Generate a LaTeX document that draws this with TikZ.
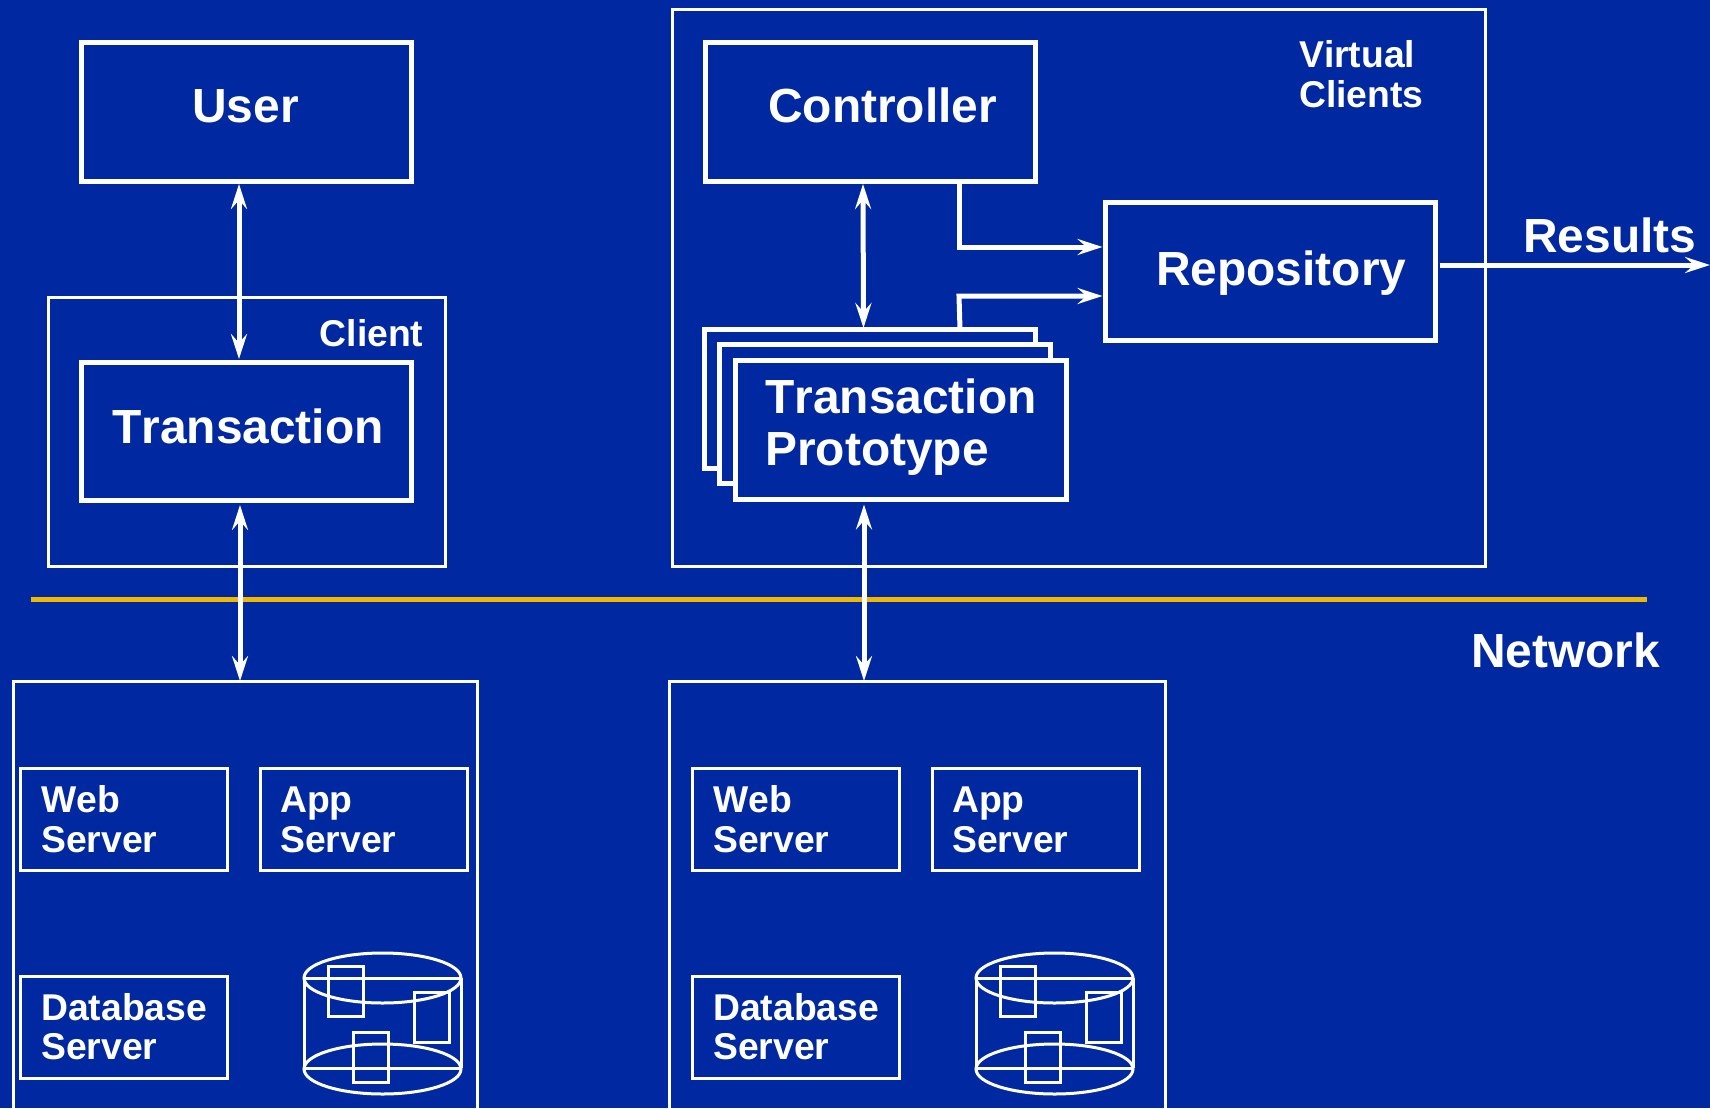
\documentclass[tikz,border=0pt]{standalone}
\usepackage{fontspec}
\setmainfont{Liberation Sans}[Ligatures=TeX,Kerning=Off]
\usetikzlibrary{arrows.meta}
\definecolor{bgblue}{RGB}{0,40,160}
\definecolor{netgold}{RGB}{240,184,0}
\tikzset{
  x=1pt,y=-1pt,
  thickbox/.style={draw=white,line width=5pt,inner sep=0pt,outer sep=0pt},
  protobox/.style={thickbox,fill=bgblue},
  thinbox/.style={draw=white,line width=3pt,inner sep=0pt,outer sep=0pt},
  bigtxt/.style={text=white,inner sep=0pt,anchor=base west,font=\bfseries\fontsize{47.9}{52}\selectfont,align=left},
  smalltxt/.style={text=white,inner sep=0pt,anchor=base west,font=\bfseries\fontsize{37.3}{39.6}\selectfont,align=left},
  conn/.style={draw=white,line width=5pt},
  dbl/.style={conn,{Stealth[length=25pt,width=16pt,inset=9pt]}-{Stealth[length=25pt,width=16pt,inset=9pt]}},
  sgl/.style={conn,-{Stealth[length=25pt,width=16pt,inset=9pt]}},
  disk/.style={draw=white,line width=3pt},
  dbdisk/.pic={
    \draw[disk] (304,978) -- (304,1068) (461,978) -- (461,1068)
      (304,978) -- (461,978) (304,1068) -- (461,1068);
    \draw[disk] (382.5,978) ellipse [x radius=78.5,y radius=25];
    \draw[disk] (382.5,1069) ellipse [x radius=78.5,y radius=25];
    \draw[disk] (328,966) rectangle (363,1016);
    \draw[disk] (414,992) rectangle (449,1042);
    \draw[disk] (353,1032) rectangle (388,1082);
  }
}
\begin{document}
\begin{tikzpicture}
\useasboundingbox (0,0) rectangle (1710,1108);
\clip (0,0) rectangle (1710,1108);
\fill[bgblue] (0,0) rectangle (1710,1108);

% containers
\node[thinbox,minimum width=397pt,minimum height=269pt] (client) at (246.5,431.5) {};
\node[thinbox,minimum width=813pt,minimum height=557pt] (virtual) at (1078.5,288) {};
\node[thinbox,minimum width=464pt,minimum height=460pt] (farmA) at (245,911) {};
\node[thinbox,minimum width=496pt,minimum height=460pt] (farmB) at (917,911) {};

% main boxes
\node[thickbox,minimum width=330pt,minimum height=138pt] (user) at (246,112) {};
\node[thickbox,minimum width=330pt,minimum height=138pt] (trans) at (246,431) {};
\node[thickbox,minimum width=330pt,minimum height=138pt] (ctrl) at (870,112) {};
\node[thickbox,minimum width=330pt,minimum height=138pt] (repo) at (1270,271) {};
\node[protobox,minimum width=331pt,minimum height=139pt] (protoC) at (869.5,398.5) {};
\node[protobox,minimum width=331pt,minimum height=139pt] (protoB) at (885,414) {};
\node[protobox,minimum width=331pt,minimum height=139pt] (protoA) at (901,430) {};

% server boxes
\node[thinbox,minimum width=207pt,minimum height=102pt] (webA) at (123.5,819) {};
\node[thinbox,minimum width=207pt,minimum height=102pt] (appA) at (363.5,819) {};
\node[thinbox,minimum width=207pt,minimum height=102pt] (dbA) at (123.5,1027) {};
\node[thinbox,minimum width=207pt,minimum height=102pt] (webB) at (795.5,819) {};
\node[thinbox,minimum width=207pt,minimum height=102pt] (appB) at (1035.5,819) {};
\node[thinbox,minimum width=207pt,minimum height=102pt] (dbB) at (795.5,1027) {};

% disks
\pic at (0,0) {dbdisk};
\pic at (672,0) {dbdisk};

% network line
\coordinate (netL) at (31,599);
\coordinate (netR) at (1647,599);
\draw[netgold,line width=5pt] (netL) -- (netR);

% connectors
\draw[dbl] ([xshift=-7pt,yshift=-3pt]user.south) -- ([xshift=-7pt,yshift=3pt]trans.north);
\draw[dbl] ([xshift=-6pt,yshift=-5pt]trans.south) -- ([xshift=-5pt]farmA.north);
\draw[dbl] ([xshift=-7pt,yshift=-3pt]ctrl.south) -- ([xshift=-6pt,yshift=1pt]protoC.north);
\draw[dbl] ([xshift=-37pt,yshift=-5pt]protoA.south) -- ([xshift=-53pt]farmB.north);
\draw[sgl] ([xshift=89pt]ctrl.south) |- ([xshift=-2.5pt,yshift=24pt]repo.west);
\draw[sgl] ([xshift=90.5pt]protoC.north) -- ++(-1,-33) -- ([xshift=-2.5pt,yshift=-25pt]repo.west);
\coordinate (resEnd) at (1710,265);
\draw[sgl] ([xshift=4.5pt,yshift=6pt]repo.east) -- (resEnd);

% labels
\node[bigtxt] (userT) at (192,122.5) {User};
\node[bigtxt] (transT) at (112,443) {Transaction};
\node[bigtxt] (ctrlT) at (768,122.5) {Controller};
\node[bigtxt] (repoT) at (1156,285) {Repository};
\node[bigtxt] (protoT1) at (765,413) {Transaction};
\node[bigtxt] (protoT2) at (765,465) {Prototype};
\node[bigtxt] (resT) at (1523,252) {Results};
\node[bigtxt] (netT) at (1471,667) {Network};
\node[smalltxt] (clientT) at (319.5,346) {Client};
\node[smalltxt] (virtT1) at (1299,67) {Virtual};
\node[smalltxt] (virtT2) at (1299,107) {Clients};

\node[smalltxt] (webAT1) at (41,812) {Web};
\node[smalltxt] (webAT2) at (41,852) {Server};
\node[smalltxt] (appAT1) at (280,812) {App};
\node[smalltxt] (appAT2) at (280,852) {Server};
\node[smalltxt] (dbAT1) at (41,1020) {Database};
\node[smalltxt] (dbAT2) at (41,1059) {Server};
\node[smalltxt] (webBT1) at (713,812) {Web};
\node[smalltxt] (webBT2) at (713,852) {Server};
\node[smalltxt] (appBT1) at (952,812) {App};
\node[smalltxt] (appBT2) at (952,852) {Server};
\node[smalltxt] (dbBT1) at (713,1020) {Database};
\node[smalltxt] (dbBT2) at (713,1059) {Server};
\end{tikzpicture}
\end{document}
